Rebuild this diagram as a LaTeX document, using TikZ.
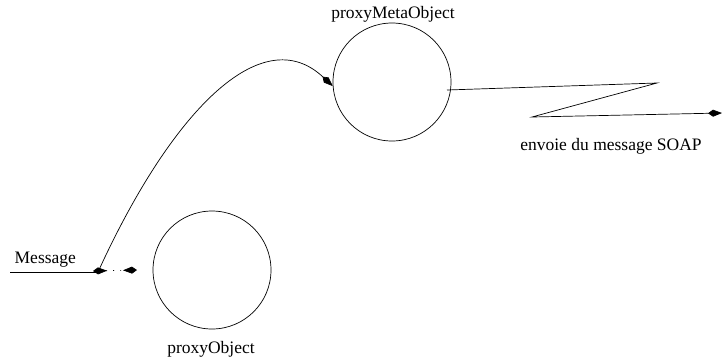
\documentclass[tikz,border=0pt]{standalone}
\usepackage{fontspec}
\setmainfont{Liberation Serif}
\usepackage{tikz}
\usetikzlibrary{arrows.meta}
\tikzset{msgtip/.tip={Kite[length=14pt, width=7pt, inset=5pt]}}

\begin{document}
\begin{tikzpicture}[x=1pt, y=-1pt, line width=0.7pt,
    every node/.style={font=\fontsize{17.5}{21}\selectfont},
    obj/.style={circle, draw, minimum size=118pt, inner sep=0pt}]
\useasboundingbox (0,0) rectangle (722,360);

\node[obj] (PO) at (212,270) {};
\node[obj] (PMO) at (392,82) {};

\node[anchor=base] (POlabel) at (211,353) {proxyObject};
\node[anchor=base] (PMOlabel) at (393,18) {proxyMetaObject};
\node[anchor=base west] (msglabel) at (11,263) {Message};
\node[anchor=base] (soaplabel) at (611,150) {envoie du message SOAP};

\coordinate (in) at (10,272);
\coordinate (msg) at (98,272);
\coordinate (dl) at (93,271);
\coordinate (dr) at (137,270);
\coordinate (z1) at (447,90);
\coordinate (z2) at (657,83);
\coordinate (z3) at (532,117);
\coordinate (out) at (722,113);

\draw (in)--(msg);
\draw[dash pattern=on 1pt off 6pt, {msgtip[reversed]}-{msgtip[reversed]}] (dl)--(dr);
\draw[-{msgtip}] (msg) .. controls (172,110) and (262,20) .. (PMO.184);
\draw[-{msgtip}] (z1)--(z2)--(z3)--(out);

\end{tikzpicture}
\end{document}
